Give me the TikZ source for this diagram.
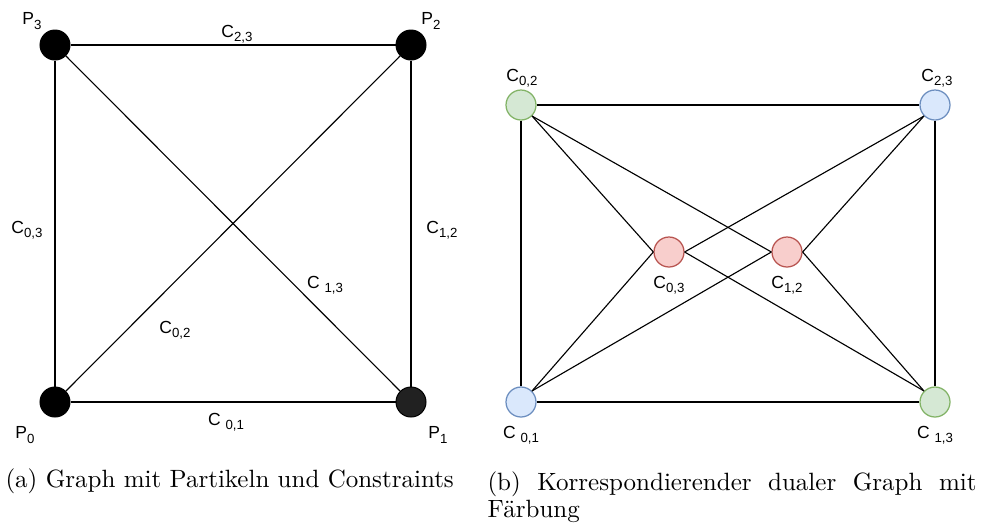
\documentclass[tikz,border=0pt]{standalone}
\usepackage{fontspec}
\newfontfamily\lblfont{Liberation Sans}
\usepackage{xcolor}
\definecolor{clGreenFill}{HTML}{D5E8D4}
\definecolor{clGreenLine}{HTML}{82B366}
\definecolor{clBlueFill}{HTML}{DAE8FC}
\definecolor{clBlueLine}{HTML}{6C8EBF}
\definecolor{clRedFill}{HTML}{F8CECC}
\definecolor{clRedLine}{HTML}{B85450}
\usepackage{tikz}
\usetikzlibrary{positioning}
\newcommand{\lsub}[1]{\raisebox{-0.45ex}{\fontsize{5.3}{6}\selectfont #1}}
\tikzset{
  particle/.style={circle, draw=black, fill=black, line width=0.4pt,
                   minimum size=12pt, inner sep=0pt},
  dual/.style={circle, line width=0.5pt, minimum size=12pt, inner sep=0pt},
  dualgreen/.style={dual, draw=clGreenLine, fill=clGreenFill},
  dualblue/.style={dual, draw=clBlueLine, fill=clBlueFill},
  dualred/.style={dual, draw=clRedLine, fill=clRedFill},
  lbl/.style={font=\lblfont\fontsize{7}{8}\selectfont, inner sep=0pt},
  edge/.style={draw=black, line width=0.45pt},
  caption/.style={font=\fontsize{10}{10.8}\selectfont, inner sep=0pt},
}

\begin{document}
\begin{tikzpicture}[x=0.4pt, y=-0.4pt]
  \useasboundingbox (0,0) rectangle (981,522);
  % (a) graph with particles
  \node[particle] (P3) at (55,45) {};
  \node[particle] (P2) at (411,45) {};
  \node[particle] (P0) at (55,402) {};
  \node[particle, fill=black!87] (P1) at (411,402) {};
  \draw[edge] (P3) -- (P2);
  \draw[edge] (P3) -- (P0);
  \draw[edge] (P2) -- (P1);
  \draw[edge] (P0) -- (P1);
  \draw[edge] (P3) -- (P1);
  \draw[edge] (P0) -- (P2);
  \node[lbl] (lP3) at (32,21) {P\lsub{3}};
  \node[lbl] (lP2) at (431,21) {P\lsub{2}};
  \node[lbl] (lP0) at (25,435) {P\lsub{0}};
  \node[lbl] (lP1) at (438,435) {P\lsub{1}};
  \node[lbl] (c23) at (237,34) {C\lsub{2,3}};
  \node[lbl] (c03) at (27,230) {C\lsub{0,3}};
  \node[lbl] (c12) at (442,230) {C\lsub{1,2}};
  \node[lbl] (c13) at (325,285) {C\ \lsub{1,3}};
  \node[lbl] (c02) at (175,330) {C\lsub{0,2}};
  \node[lbl] (c01) at (226,422) {C\ \lsub{0,1}};

  % (b) dual graph with colouring
  \node[dualgreen] (C02) at (521,105) {};
  \node[dualblue] (C23) at (935,105) {};
  \node[dualblue] (C01) at (521,402) {};
  \node[dualgreen] (C13) at (935,402) {};
  \node[dualred] (C03) at (669,252) {};
  \node[dualred] (C12) at (787,252) {};
  \draw[edge] (C02) -- (C23);
  \draw[edge] (C02) -- (C01);
  \draw[edge] (C23) -- (C13);
  \draw[edge] (C01) -- (C13);
  \draw[edge] (C02.south east) -- (C03.west);
  \draw[edge] (C02.south east) -- (C12.west);
  \draw[edge] (C01.north east) -- (C03.west);
  \draw[edge] (C01.north east) -- (C12.west);
  \draw[edge] (C23.south west) -- (C03.east);
  \draw[edge] (C23.south west) -- (C12.east);
  \draw[edge] (C13.north west) -- (C03.east);
  \draw[edge] (C13.north west) -- (C12.east);
  \node[lbl] (lC02) at (522,78) {C\lsub{0,2}};
  \node[lbl] (lC23) at (937,78) {C\lsub{2,3}};
  \node[lbl] (lC03) at (669,285) {C\lsub{0,3}};
  \node[lbl] (lC12) at (787,285) {C\lsub{1,2}};
  \node[lbl] (lC01) at (521,435) {C\ \lsub{0,1}};
  \node[lbl] (lC13) at (935,435) {C\ \lsub{1,3}};

  % captions
  \node[caption, anchor=base west] (capA) at (5,487)
    {(a) Graph mit Partikeln und Constraints};
  \node[caption, anchor=north west, text width=195.6pt, align=justify] (capB)
    at (487,471) {(b) Korrespondierender dualer Graph mit F\"arbung};
\end{tikzpicture}
\end{document}
